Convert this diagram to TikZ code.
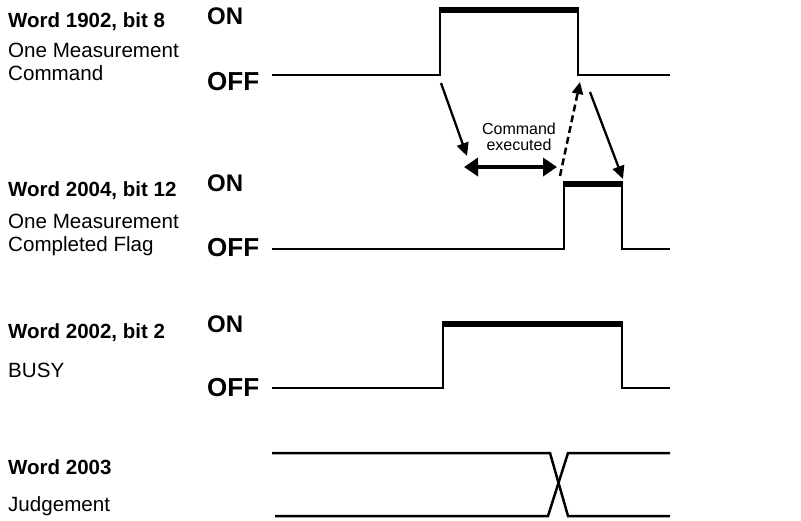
\documentclass[tikz,border=0pt]{standalone}
\usepackage{fontspec}
\setmainfont{Liberation Sans}
\usetikzlibrary{arrows.meta}
\tikzset{
  lbl/.style={anchor=base west,inner sep=0pt,font=\fontsize{20.6}{24}\selectfont},
  wlbl/.style={anchor=base west,inner sep=0pt,font=\bfseries\fontsize{20.5}{24}\selectfont},
  onlbl/.style={anchor=base west,inner sep=0pt,font=\bfseries\fontsize{24}{26}\selectfont},
  offlbl/.style={anchor=base west,inner sep=0pt,font=\bfseries\fontsize{26}{28}\selectfont},
  sig/.style={line width=2.5pt,line join=miter},
  hi/.style={line width=6pt},
  arr/.style={line width=2.3pt,-{Triangle[length=13pt,width=12pt]}},
  darr/.style={line width=4.5pt,{Triangle[length=14pt,width=18pt]}-{Triangle[length=14pt,width=18pt]}},
  dasharr/.style={line width=2.5pt,dash pattern=on 7pt off 4pt,-{Triangle[length=12pt,width=11pt]}},
  cmdlbl/.style={align=center,inner sep=0pt,font=\fontsize{16}{16}\selectfont}
}
\begin{document}
\begin{tikzpicture}[x=1pt,y=-1pt]
\useasboundingbox (0,0) rectangle (801,520);
% labels
\node[wlbl] (w1) at (8,27) {Word 1902, bit 8};
\node[lbl] (d1a) at (8,57) {One Measurement};
\node[lbl] (d1b) at (8,80) {Command};
\node[onlbl] (on1) at (207,24) {ON};
\node[offlbl] (off1) at (207,90) {OFF};

\node[wlbl] (w2) at (8,196) {Word 2004, bit 12};
\node[lbl] (d2a) at (8,228) {One Measurement};
\node[lbl] (d2b) at (8,251) {Completed Flag};
\node[onlbl] (on2) at (207,191) {ON};
\node[offlbl] (off2) at (207,256) {OFF};

\node[wlbl] (w3) at (8,338) {Word 2002, bit 2};
\node[lbl] (d3a) at (8,377) {BUSY};
\node[onlbl] (on3) at (207,332) {ON};
\node[offlbl] (off3) at (207,396) {OFF};

\node[wlbl] (w4) at (8,474) {Word 2003};
\node[lbl] (d4a) at (8,511) {Judgement};

% signal 1
\draw[sig] (272,75) -- (440,75) -- (440,10) -- (578,10) -- (578,75) -- (670,75);
\draw[hi] (438.75,10) -- (579.25,10);
% signal 2
\draw[sig] (272,249) -- (564,249) -- (564,184) -- (622,184) -- (622,249) -- (670,249);
\draw[hi] (562.75,184) -- (623.25,184);
% signal 3
\draw[sig] (272,388) -- (443,388) -- (443,324) -- (622,324) -- (622,388) -- (670,388);
\draw[hi] (441.75,324) -- (623.25,324);
% signal 4
\draw[sig] (272,453) -- (550,453) -- (568,516) -- (670,516);
\draw[sig] (275,516) -- (548,516) -- (568,453) -- (670,453);

% arrows
\coordinate (a1s) at (441,83);
\coordinate (a1e) at (467,156);
\coordinate (dl) at (464,167);
\coordinate (dr) at (557,167);
\coordinate (a2s) at (560,176);
\coordinate (a2e) at (580,82);
\coordinate (a3s) at (590,92);
\coordinate (a3e) at (623,179);
\draw[arr] (a1s) -- (a1e);
\draw[darr] (dl) -- (dr);
\draw[dasharr] (a2s) -- (a2e);
\draw[arr] (a3s) -- (a3e);
\node[cmdlbl] (cmd) at (519,137) {Command\\executed};
\end{tikzpicture}
\end{document}
